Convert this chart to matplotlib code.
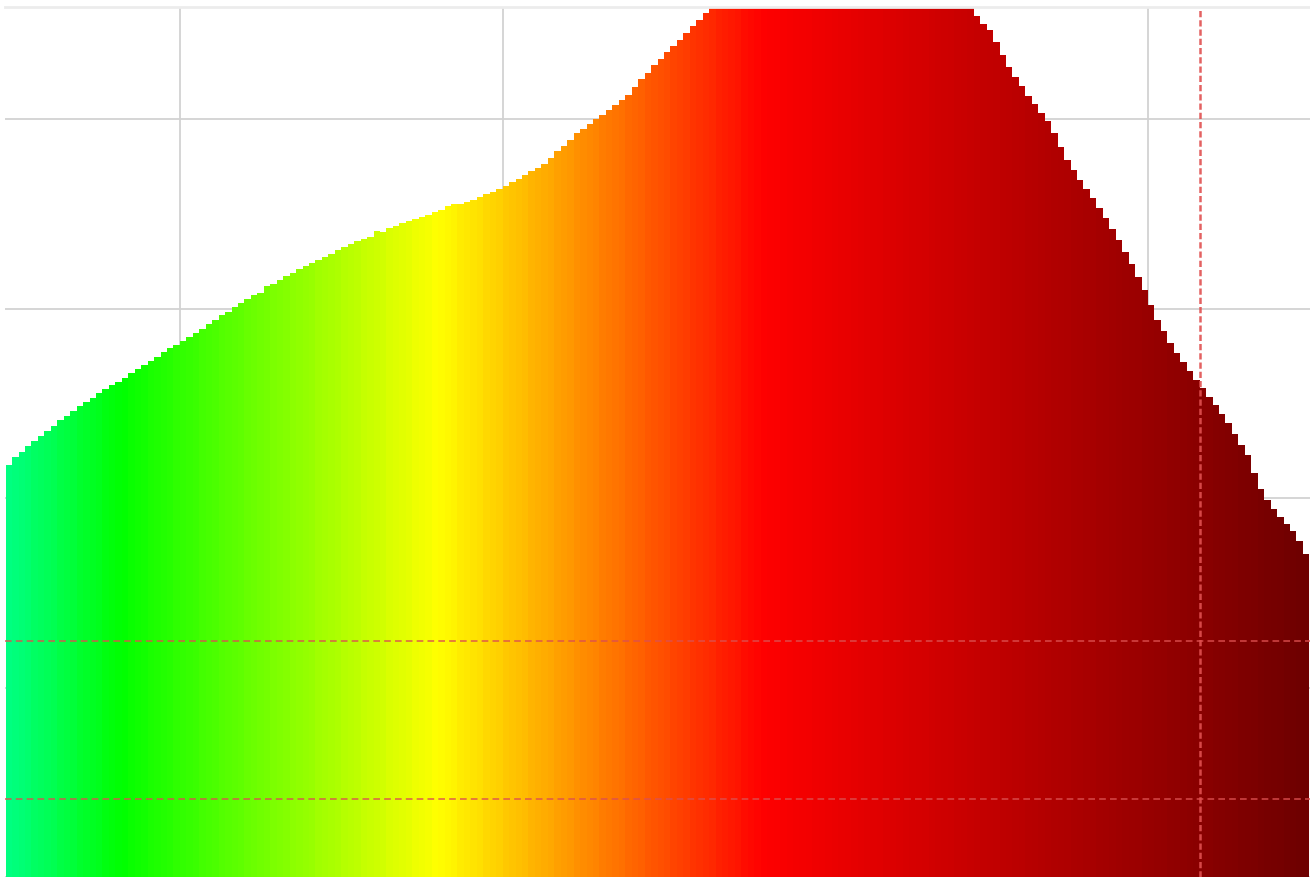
import numpy as np
import matplotlib
matplotlib.use('Agg')
import matplotlib.pyplot as plt
from matplotlib.colors import LinearSegmentedColormap

# bar left edges and heights
start = 23
heights = [
    63.5, 64.3, 64.9, 65.5, 66.0, 66.6, 67.1, 67.6, 68.2, 68.7,
    69.2, 69.7, 70.2, 70.6, 71.1, 71.5, 71.9, 72.3, 72.7, 73.2,
    73.6, 74.1, 74.5, 74.9, 75.4, 75.8, 76.2, 76.6, 77.0, 77.4,
    77.9, 78.4, 78.8, 79.3, 79.7, 80.2, 80.6, 81.0, 81.4, 81.7,
    82.4, 82.6, 83.0, 83.4, 83.8, 84.2, 84.5, 84.8, 85.1, 85.5,
    85.8, 86.2, 86.5, 86.8, 87.1, 87.4, 87.6, 88.2, 88.1, 88.5,
    88.7, 89.0, 89.3, 89.5, 89.7, 89.9, 90.2, 90.4, 90.8, 91.0,
    91.1, 91.3, 91.5, 91.8, 92.1, 92.3, 92.6, 93.0, 93.4, 93.7,
    94.1, 94.5, 94.8, 95.3, 95.9, 96.6, 97.2, 97.8, 98.5, 99.0,
    99.5, 100.0, 100.5, 101.0, 101.5, 102.0, 102.6, 103.4, 104.2, 104.9,
    105.7, 106.4, 107.1, 107.7, 108.4, 109.1, 109.8, 110.5, 111.2, 112.0,
    112.6, 113.1, 113.7, 114.2, 114.8, 115.3, 115.8, 116.2, 116.6, 117.0,
    117.3, 117.6, 117.9, 118.1, 118.3, 118.4, 118.5, 118.5, 118.4, 118.3,
    118.1, 117.9, 117.6, 117.3, 117.0, 116.6, 116.2, 115.8, 115.3, 114.8,
    114.3, 113.8, 113.4, 113.0, 112.7, 112.5, 112.4, 112.3, 112.1, 111.7,
    110.9, 110.1, 109.4, 108.2, 106.8, 105.5, 104.5, 103.5, 102.5, 101.6,
    100.7, 99.8, 98.5, 97.1, 95.7, 94.6, 93.6, 92.6, 91.7, 90.6,
    89.6, 88.4, 87.2, 86.0, 84.7, 83.3, 82.0, 80.4, 78.8, 77.6,
    76.4, 75.3, 74.4, 73.4, 72.5, 71.6, 70.7, 69.8, 68.9, 67.9,
    66.8, 65.6, 64.5, 62.7, 61.0, 59.8, 58.9, 58.0, 57.3, 56.5,
    55.5, 54.1,
]
# colour ramp stops along the bars
stop_pos = [0.0, 0.085, 0.33, 0.58, 1.0]
stop_col = ['#00ff80', '#00ff00', '#ffff00', '#ff0000', '#6e0000']
# reference lines
hlines = [44.9, 28.2]
vline = 208.0

x = np.arange(start, start + len(heights))
cmap = LinearSegmentedColormap.from_list('ramp', list(zip(stop_pos, stop_col)))
colors = cmap(np.linspace(0, 1, len(heights)))

fig = plt.figure(figsize=(13.1, 8.77), dpi=100)
ax = fig.add_axes([5 / 1310, 0, 1305 / 1310, 870 / 877])
ax.bar(x, heights, width=1.0, align='edge', color=colors, linewidth=0)

for h in hlines:
    ax.axhline(h, color='#dc5050', alpha=0.85, lw=1.2, ls=(0, (4, 2.5)))
ax.axvline(vline, color='#e05050', alpha=0.9, lw=1.8, ls=(0, (2.5, 1.2)))

ax.set_xlim(22.9, 225.1)
ax.set_ylim(20, 111.85)
ax.set_xticks([50, 100, 150, 200])
ax.set_yticks([20, 40, 60, 80, 100])
ax.tick_params(length=0, labelbottom=False, labelleft=False)
ax.grid(True, color='#d2d2d2', lw=1.3)
ax.set_axisbelow(True)
for s in ['left', 'right', 'bottom']:
    ax.spines[s].set_visible(False)
ax.spines['top'].set_color('#ececec')
ax.spines['top'].set_linewidth(2)

plt.savefig('out.png', dpi=100)
